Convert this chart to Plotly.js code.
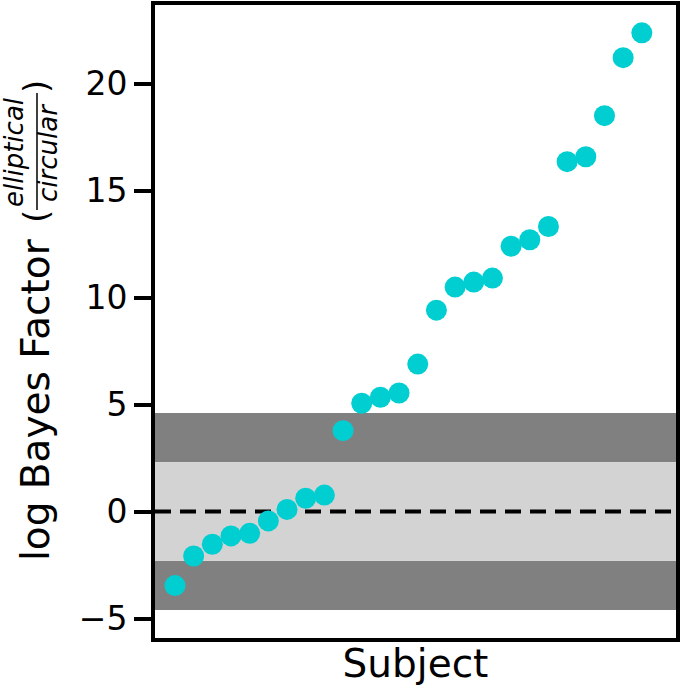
<!DOCTYPE html>
<html>
<head>
<meta charset="utf-8">
<script src="https://cdn.plot.ly/plotly-3.0.1.min.js"></script>
<style>
  html, body { margin: 0; padding: 0; background: #fff; }
  #chart { width: 685px; height: 690px; }
</style>
</head>
<body>
<div id="chart"></div>
<script>
// one point per subject, sorted by log Bayes factor
const subjects = Array.from({ length: 26 }, (_, i) => i + 1);
const logBF = [
    -3.46, -2.08, -1.53, -1.14, -1.02, -0.44, 0.10, 0.62, 0.77, 3.78,
    5.06, 5.34, 5.54, 6.89, 9.41, 10.49, 10.72, 10.91, 12.40, 12.70,
    13.32, 16.35, 16.58, 18.50, 21.21, 22.37
];
const yTicks = [-5, 0, 5, 10, 15, 20];
// evidence bands: ln(10) and ln(100)
const innerBand = 2.3;
const outerBand = 4.6;

const W = 685, H = 690;
const M = { l: 155, r: 9, t: 5, b: 52 };
const pw = W - M.l - M.r, ph = H - M.t - M.b;
// pixel -> paper helpers for the hand-built y label
const px = X => (X - M.l) / pw;
const py = Y => (H - M.b - Y) / ph;

const FONT = "DejaVu Sans, sans-serif";

const band = (y0, y1, color) => ({
    type: "rect", xref: "paper", yref: "y", x0: 0, x1: 1, y0: y0, y1: y1,
    fillcolor: color, line: { width: 0 }, layer: "below"
});

const shapes = [
    band(innerBand, outerBand, "#808080"),
    band(-outerBand, -innerBand, "#808080"),
    band(-innerBand, innerBand, "#d3d3d3"),
    {
        type: "line", xref: "paper", yref: "y", x0: 0, x1: 1, y0: 0, y1: 0,
        line: { color: "#000", width: 4, dash: "16px,9px" }, layer: "below"
    },
    // fraction bar in the y label
    {
        type: "line", xref: "paper", yref: "paper",
        x0: px(37), x1: px(37), y0: py(93), y1: py(210),
        line: { color: "#000", width: 1.5 }
    }
];

const lbl = (text, X, Y, size, italic) => ({
    xref: "paper", yref: "paper", x: px(X), y: py(Y),
    xanchor: "center", yanchor: "middle", showarrow: false, textangle: -90,
    text: italic ? "<i>" + text + "</i>" : text,
    font: { family: FONT, size: size, color: "#000" }
});

const annotations = [
    lbl("log Bayes Factor", 35, 400, 39),
    lbl("(", 36, 217, 34),
    lbl("elliptical", 14, 152, 26, true),
    lbl("circular", 48, 153, 26, true),
    lbl(")", 36, 87, 34)
];

Plotly.newPlot("chart", [{
    type: "scatter", mode: "markers",
    x: subjects, y: logBF,
    marker: { color: "#00ced1", size: 21, line: { width: 0 } },
    hoverinfo: "x+y"
}], {
    width: W, height: H,
    margin: M,
    paper_bgcolor: "#fff", plot_bgcolor: "#fff",
    font: { family: FONT, color: "#000" },
    showlegend: false,
    xaxis: {
        range: [-0.07, 27.83],
        showgrid: false, zeroline: false,
        showticklabels: false, ticks: "",
        showline: true, mirror: true, linecolor: "#000", linewidth: 4,
        title: { text: "Subject", font: { family: FONT, size: 39, color: "#000" }, standoff: 10 }
    },
    yaxis: {
        range: [-5.91, 23.67],
        tickvals: yTicks,
        showgrid: false, zeroline: false,
        ticks: "outside", ticklen: 17, tickwidth: 4, tickcolor: "#000",
        tickfont: { family: FONT, size: 33, color: "#000" },
        showline: true, mirror: true, linecolor: "#000", linewidth: 4
    },
    shapes: shapes,
    annotations: annotations
}, { displayModeBar: false, staticPlot: true });
</script>
</body>
</html>
